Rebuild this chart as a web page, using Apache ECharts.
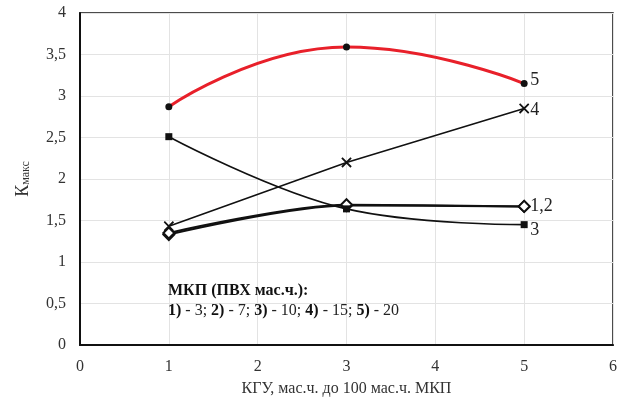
<!DOCTYPE html>
<html>
<head>
<meta charset="utf-8">
<script src="https://cdn.jsdelivr.net/npm/echarts@6/dist/echarts.min.js"></script>
<style>
html,body{margin:0;padding:0;background:#fff;}
#chart{width:630px;height:405px;}
</style>
</head>
<body>
<div id="chart"></div>
<script>
// КГУ content, mass parts per 100 mass parts of МКП
const kguParts = [1, 3, 5];
// Кмакс for each PVC loading of the composition
const series1 = [1.33, 1.68, 1.67];
const series2 = [1.35, 1.69, 1.67];
const series3 = [2.51, 1.64, 1.45];
const series4 = [1.43, 2.20, 2.85];
const series5 = [2.87, 3.59, 3.15];
const curveLabels = ['1,2', '3', '4', '5'];

const serif = '"Liberation Serif", "Times New Roman", serif';
const pairs = arr => kguParts.map((x, i) => [x, arr[i]]);

const chart = echarts.init(document.getElementById('chart'));

function endLabel(text, dy) {
  return {
    show: true, formatter: text, position: 'right', distance: 6,
    offset: [0, dy], fontFamily: serif, fontSize: 18, color: '#222'
  };
}

function line(name, data, opts) {
  return Object.assign({
    name: name, type: 'line', data: pairs(data),
    symbolSize: 7, showSymbol: true,
    lineStyle: { color: '#111', width: 1.6 },
    itemStyle: { color: '#111' },
    z: 3
  }, opts);
}

chart.setOption({
  animation: false,
  grid: { left: 80, right: 17, top: 13, bottom: 60, show: true, borderColor: '#111', borderWidth: 1.5 },
  xAxis: {
    type: 'value', min: 0, max: 6, interval: 1,
    name: 'КГУ, мас.ч. до 100 мас.ч. МКП', nameLocation: 'middle', nameGap: 36,
    nameTextStyle: { fontFamily: serif, fontSize: 16, color: '#333' },
    axisLine: { show: true, lineStyle: { color: '#111', width: 2 } },
    axisTick: { show: false },
    axisLabel: { fontFamily: serif, fontSize: 16, color: '#333', margin: 14 },
    splitLine: { show: true, lineStyle: { color: '#e3e3e3', width: 1 } }
  },
  yAxis: {
    type: 'value', min: 0, max: 4, interval: 0.5,
    name: '{k|К}{s|макс}', nameLocation: 'middle', nameGap: 48, nameRotate: 90,
    nameTextStyle: {
      rich: {
        k: { fontFamily: serif, fontSize: 18, color: '#333' },
        s: { fontFamily: serif, fontSize: 12, color: '#333', padding: [6, 0, 0, 0] }
      }
    },
    axisLine: { show: true, lineStyle: { color: '#111', width: 2 } },
    axisTick: { show: false },
    axisLabel: {
      fontFamily: serif, fontSize: 16, color: '#333', margin: 14,
      formatter: v => String(v).replace('.', ',')
    },
    splitLine: { show: true, lineStyle: { color: '#e3e3e3', width: 1 } }
  },
  series: [
    line('1', series1, {
      smooth: 0.3, symbol: 'diamond', symbolSize: 11,
      lineStyle: { color: '#111', width: 2 },
      itemStyle: { color: '#fff', borderColor: '#111', borderWidth: 2 }
    }),
    line('2', series2, {
      smooth: 0.3, symbol: 'diamond', symbolSize: 11,
      lineStyle: { color: '#111', width: 2 },
      itemStyle: { color: '#fff', borderColor: '#111', borderWidth: 2 },
      endLabel: endLabel(curveLabels[0], 0)
    }),
    line('3', series3, {
      smooth: 0.4, symbol: 'rect', symbolSize: 7,
      endLabel: endLabel(curveLabels[1], 6)
    }),
    line('4', series4, {
      symbol: 'image://data:image/svg+xml;utf8,' + encodeURIComponent(
        '<svg xmlns="http://www.w3.org/2000/svg" width="12" height="12"><path d="M1 1L11 11M11 1L1 11" stroke="#111" stroke-width="2"/></svg>'),
      symbolSize: 11,
      endLabel: endLabel(curveLabels[2], 2)
    }),
    line('5', series5, {
      smooth: 0.5, symbol: 'circle', symbolSize: 7,
      lineStyle: { color: '#e8202a', width: 3 },
      itemStyle: { color: '#111' },
      endLabel: endLabel(curveLabels[3], -3),
      z: 4
    })
  ],
  graphic: [
    {
      type: 'text', left: 168, top: 283, z: 10,
      style: {
        text: '{b|МКП (ПВХ мас.ч.):}\n{b|1)}{n| - 3; }{b|2)}{n| - 7; }{b|3)}{n| - 10; }{b|4)}{n| - 15; }{b|5)}{n| - 20}',
        rich: {
          b: { fontFamily: serif, fontSize: 16, fontWeight: 'bold', fill: '#111', lineHeight: 20 },
          n: { fontFamily: serif, fontSize: 16, fill: '#222', lineHeight: 20 }
        }
      }
    }
  ]
});
</script>
</body>
</html>
